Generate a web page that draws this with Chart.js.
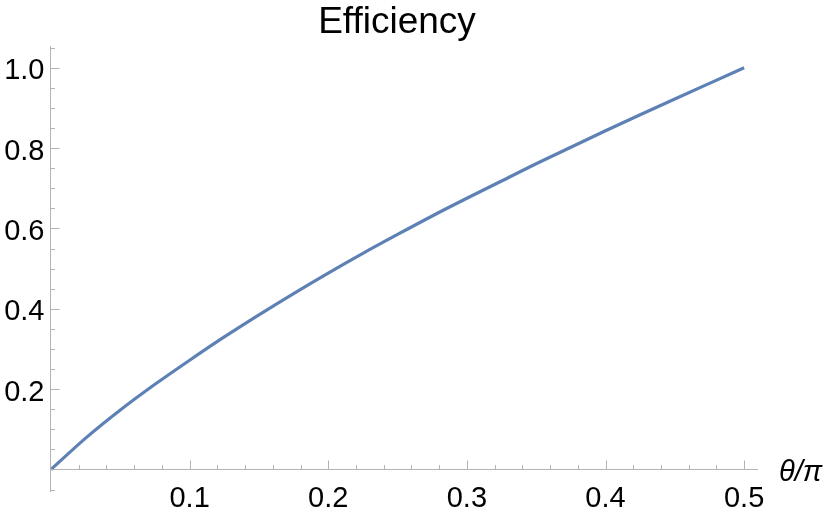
<!DOCTYPE html>
<html>
<head>
<meta charset="utf-8">
<script src="https://cdn.jsdelivr.net/npm/chart.js@4"></script>
<style>
html,body{margin:0;padding:0;background:#fff;}
canvas{display:block;}
</style>
</head>
<body>
<canvas id="c" width="830" height="515"></canvas>
<script>
// ---- data ----
const thetaOverPi = [0, 0.025, 0.05, 0.075, 0.1, 0.125, 0.15, 0.175, 0.2, 0.225, 0.25, 0.275, 0.3, 0.325, 0.35, 0.375, 0.4, 0.425, 0.45, 0.475, 0.5];
const efficiency  = [0, 0.078, 0.148, 0.212, 0.272, 0.330, 0.385, 0.438, 0.489, 0.538, 0.585, 0.631, 0.675, 0.718, 0.761, 0.802, 0.843, 0.883, 0.922, 0.961, 1.0];
const xMajorTicks = [0.1, 0.2, 0.3, 0.4, 0.5];
const xTickLabels = ["0.1", "0.2", "0.3", "0.4", "0.5"];
const yMajorTicks = [0.2, 0.4, 0.6, 0.8, 1.0];
const yTickLabels = ["0.2", "0.4", "0.6", "0.8", "1.0"];
const titleText = "Efficiency";
const xAxisLabel = "θ/π";

const AXIS_COLOR = "#b3b3b3";
const FONT = '"Liberation Sans", Arial, Helvetica, sans-serif';

const axesPlugin = {
  id: 'mmaAxes',
  afterDatasetsDraw(chart) {
    const ctx = chart.ctx;
    const xs = chart.scales.x, ys = chart.scales.y;
    const x0 = Math.floor(xs.getPixelForValue(0)) - 0.5;
    const y0 = Math.floor(ys.getPixelForValue(0)) + 0.5;
    const left = xs.left, right = xs.right, top = ys.top, bottom = ys.bottom;
    ctx.save();
    ctx.strokeStyle = AXIS_COLOR;
    ctx.lineWidth = 1;
    ctx.beginPath();
    // x axis
    ctx.moveTo(left - 1, y0); ctx.lineTo(right, y0);
    // y axis
    ctx.moveTo(x0, top); ctx.lineTo(x0, bottom);
    // x minor ticks every 0.02, major every 0.1
    for (let i = 1; i * 0.02 <= xs.max + 1e-9; i++) {
      const v = i * 0.02;
      const px = Math.round(xs.getPixelForValue(v)) + 0.5;
      ctx.moveTo(px, y0); ctx.lineTo(px, y0 - 4.5);
    }
    xMajorTicks.forEach(v => {
      const px = Math.round(xs.getPixelForValue(v)) + 0.5;
      ctx.moveTo(px, y0); ctx.lineTo(px, y0 - 9);
    });
    // y minor ticks every 0.05, major every 0.2
    for (let i = -1; i * 0.05 <= ys.max + 1e-9; i++) {
      if (i === 0) continue;
      const v = i * 0.05;
      const py = Math.round(ys.getPixelForValue(v)) + 0.5;
      ctx.moveTo(x0, py); ctx.lineTo(x0 + 4.5, py);
    }
    yMajorTicks.forEach(v => {
      const py = Math.round(ys.getPixelForValue(v)) + 0.5;
      ctx.moveTo(x0, py); ctx.lineTo(x0 + 9, py);
    });
    ctx.stroke();

    // tick labels
    ctx.fillStyle = "#000";
    ctx.font = "29px " + FONT;
    ctx.textAlign = "center";
    ctx.textBaseline = "alphabetic";
    xMajorTicks.forEach((v, i) => {
      ctx.fillText(xTickLabels[i], xs.getPixelForValue(v), y0 + 37);
    });
    ctx.textAlign = "right";
    yMajorTicks.forEach((v, i) => {
      ctx.fillText(yTickLabels[i], x0 - 6, ys.getPixelForValue(v) + 11.5);
    });
    // axis label
    ctx.textAlign = "left";
    ctx.font = "italic 29px " + FONT;
    ctx.fillText(xAxisLabel, 779, y0 + 11.5);
    // title
    ctx.textAlign = "center";
    ctx.font = "37px " + FONT;
    ctx.fillText(titleText, 397, 33);
    ctx.restore();
  }
};

const points = thetaOverPi.map((x, i) => ({x: x, y: efficiency[i]}));

new Chart(document.getElementById('c'), {
  type: 'scatter',
  data: {
    datasets: [{
      data: points,
      showLine: true,
      borderColor: '#5e81b5',
      borderWidth: 3.2,
      pointRadius: 0,
      pointHoverRadius: 0,
      fill: false,
      cubicInterpolationMode: 'monotone',
      tension: 0.4
    }]
  },
  options: {
    responsive: false,
    animation: false,
    events: [],
    layout: { padding: { left: 51, right: 72, top: 46, bottom: 23 } },
    plugins: { legend: { display: false }, title: { display: false }, tooltip: { enabled: false } },
    scales: {
      x: { type: 'linear', min: 0, max: 0.51, display: false },
      y: { type: 'linear', min: -0.056, max: 1.054, display: false }
    }
  },
  plugins: [axesPlugin]
});
</script>
</body>
</html>
